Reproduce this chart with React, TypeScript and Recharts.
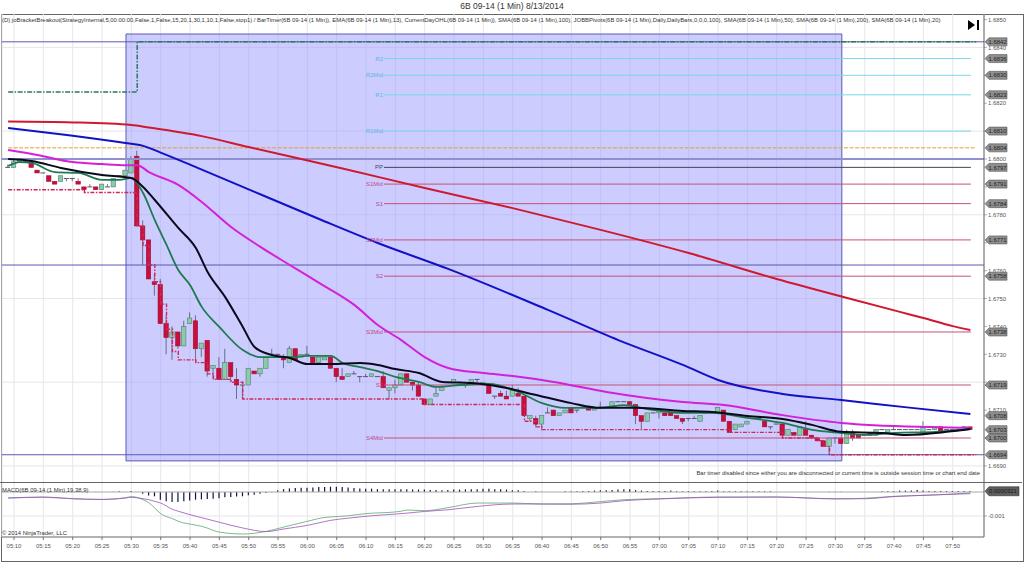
import React from "react";
import { ComposedChart, Bar, Line, XAxis, YAxis, CartesianGrid, ReferenceArea, ReferenceLine } from "recharts";

// Prices are kept in units of 0.0001 (16800 = 1.6800). Minutes are counted from 05:10.
const FIRST_MINUTE = -1;
const open = [
  16797,16797,16799,16799,16799,16796,16795,16794,16792,16792,
  16793,16793,16792,16790,16790,16790,16789,16790,16790,16794,
  16794,16795,16801,16776,16771,16756,16755,16741,16736,16738,
  16733,16741,16742,16732,16735,16725,16725,16721,16727,16721,
  16719,16719,16724,16723,16725,16730,16730,16729,16727,16732,
  16729,16730,16729,16727,16728,16729,16725,16722,16722,16723,
  16722,16722,16722,16722,16722,16717,16718,16719,16723,16720,
  16719,16714,16712,16715,16717,16720,16720,16720,16719,16720,
  16721,16719,16719,16715,16716,16715,16715,16716,16715,16707,
  16707,16705,16709,16710,16708,16709,16711,16710,16711,16711,
  16710,16711,16711,16711,16713,16713,16713,16712,16708,16706,
  16709,16709,16709,16709,16708,16707,16707,16707,16706,16709,
  16709,16709,16710,16706,16703,16704,16705,16707,16707,16706,
  16704,16705,16705,16701,16702,16701,16703,16701,16700,16699,
  16697,16700,16700,16698,16702,16701,16701,16702,16701,16703,
  16702,16703,16703,16703,16703,16703,16702,16703,16703,16704,
  16703,16703,16703,16704,16704,
];
const close = [
  16797,16799,16800,16799,16797,16795,16795,16792,16791,16794,
  16793,16793,16791,16789,16790,16789,16791,16790,16793,16794,
  16796,16800,16776,16771,16757,16755,16741,16736,16738,16733,
  16740,16743,16732,16734,16724,16726,16721,16727,16722,16719,
  16719,16725,16723,16725,16729,16730,16730,16728,16732,16728,
  16730,16730,16727,16729,16729,16725,16722,16721,16723,16723,
  16722,16722,16723,16722,16718,16718,16719,16723,16720,16719,
  16715,16712,16714,16716,16718,16720,16721,16720,16719,16721,
  16721,16720,16716,16715,16715,16714,16717,16715,16708,16708,
  16705,16708,16709,16708,16709,16710,16709,16710,16711,16710,
  16711,16711,16711,16713,16713,16713,16712,16708,16706,16709,
  16709,16710,16708,16708,16707,16706,16707,16707,16708,16709,
  16709,16711,16706,16702,16705,16705,16706,16707,16707,16704,
  16704,16705,16701,16703,16701,16704,16701,16700,16699,16697,
  16700,16700,16698,16702,16700,16700,16701,16701,16703,16703,
  16703,16703,16703,16703,16703,16703,16704,16703,16704,16702,
  16703,16703,16703,16704,16703,
];
const high = [
  16798,16800,16800,16799,16799,16796,16795,16794,16792,16794,
  16793,16793,16793,16790,16791,16790,16791,16791,16793,16794,
  16796,16801,16803,16778,16771,16759,16757,16744,16740,16738,
  16742,16745,16744,16734,16735,16726,16729,16732,16727,16725,
  16719,16725,16724,16725,16729,16732,16730,16730,16733,16732,
  16730,16733,16729,16729,16729,16729,16725,16725,16723,16724,
  16722,16723,16723,16722,16724,16718,16721,16723,16723,16720,
  16720,16714,16714,16718,16718,16720,16721,16720,16719,16721,
  16721,16720,16719,16715,16717,16717,16719,16718,16715,16708,
  16708,16708,16711,16710,16709,16710,16711,16710,16712,16711,
  16711,16713,16711,16713,16713,16713,16713,16712,16708,16709,
  16709,16710,16709,16709,16708,16707,16707,16708,16708,16709,
  16709,16711,16710,16706,16705,16705,16706,16707,16707,16706,
  16704,16705,16705,16703,16702,16704,16706,16701,16700,16699,
  16700,16700,16700,16703,16703,16701,16701,16702,16703,16703,
  16703,16704,16703,16703,16703,16703,16706,16703,16704,16704,
  16703,16703,16703,16704,16704,
];
const low = [
  16797,16797,16799,16799,16797,16795,16795,16792,16791,16792,
  16792,16792,16791,16789,16790,16789,16789,16790,16790,16794,
  16794,16795,16776,16762,16757,16751,16741,16730,16728,16732,
  16733,16741,16727,16729,16722,16721,16721,16721,16720,16714,
  16714,16719,16723,16722,16725,16730,16729,16725,16727,16728,
  16729,16730,16727,16727,16728,16725,16720,16721,16722,16723,
  16720,16722,16722,16722,16718,16714,16716,16719,16720,16717,
  16715,16712,16712,16715,16717,16720,16720,16720,16718,16720,
  16720,16719,16716,16714,16715,16714,16715,16715,16708,16706,
  16704,16703,16709,16708,16708,16709,16709,16709,16711,16710,
  16710,16711,16711,16711,16713,16713,16712,16705,16703,16706,
  16709,16707,16708,16708,16707,16705,16706,16707,16706,16709,
  16709,16709,16706,16702,16703,16704,16705,16707,16707,16704,
  16703,16705,16701,16701,16701,16701,16701,16700,16699,16697,
  16694,16698,16698,16698,16699,16700,16701,16701,16701,16703,
  16702,16703,16703,16703,16703,16703,16702,16703,16703,16702,
  16703,16703,16703,16704,16703,
];

const sma200: [number, number][] = [[-1,16813.4],[10,16813.1],[20,16812.2],[23,16811.3],[32,16808.2],[40,16804.3],[56,16796.6],[70,16789.6],[85,16782.4],[100,16774.6],[115,16766.3],[130,16757],[142,16750.2],[151,16745.2],[155,16743],[160,16740.1],[163,16738.7]];
const sma100: [number, number][] = [[-1,16811.1],[9,16808.6],[19,16805.7],[22,16804.7],[25,16802.3],[31,16797.1],[41,16788.2],[52,16778.5],[62,16769.9],[74,16760.6],[91,16745.9],[103,16735.1],[114,16726.2],[120,16720.8],[131,16715.8],[141,16713.6],[153,16710.8],[163,16708.6]];
const sma50: [number, number][] = [[-1,16803.2],[4,16801.4],[10,16798.9],[15,16798.2],[19,16797.8],[21,16797.8],[23,16795.3],[28,16790.7],[32,16784.6],[37,16775.6],[42,16768.5],[47,16762],[52,16755.6],[58,16747.7],[62,16740.5],[66,16735.1],[70,16729],[74,16725.1],[80,16723.3],[85,16722.2],[92,16720.1],[101,16716.5],[114,16712.9],[121,16711.8],[131,16708.2],[141,16705.4],[156,16703.9],[163,16703.6]];
const sma20: [number, number][] = [[-1,16800],[3,16799.3],[8,16796.8],[15,16794.3],[20,16793.2],[22,16790],[24,16785.3],[28,16775.3],[31,16768.1],[33,16759.5],[36,16750.5],[39,16739.8],[41,16732.6],[44,16729.7],[47,16728.7],[50,16726.5],[54,16726.5],[59,16726.9],[62,16726.2],[65,16724.7],[69,16723.3],[73,16720.1],[78,16719.7],[83,16718.3],[89,16715.4],[95,16712.5],[100,16710.8],[106,16710.8],[114,16709.7],[119,16709.3],[125,16707.9],[131,16706.8],[136,16704.7],[141,16702.2],[148,16701.8],[152,16701.1],[159,16702.2],[163,16703.2]];
const ema13: [number, number][] = [[-1,16797.5],[1,16798.9],[3,16798.6],[7,16795.3],[11,16795],[15,16792.5],[18,16792.5],[20,16793.2],[22,16787.8],[24,16778.1],[26,16769.2],[28,16760.2],[30,16754.8],[32,16747],[35,16739.8],[39,16731.5],[42,16729],[47,16729],[50,16729.4],[54,16729.4],[56,16726.9],[59,16725.4],[62,16724],[65,16721.9],[69,16720.1],[72,16718.3],[76,16719],[81,16719.4],[86,16716.5],[90,16712.5],[94,16710.8],[100,16710.8],[104,16711.8],[108,16710.4],[114,16709],[119,16709],[125,16707.2],[131,16705.4],[136,16702.9],[141,16701.8],[145,16701.1],[150,16701.8],[157,16702.2],[163,16703.2]];
const targetSteps: [number, number][] = [[-1,16824],[21,16842],[164,16842]];
const stopSteps: [number, number][] = [[-1,16789],[12,16788],[21,16776],[22,16769],[23,16762],[24,16756],[25,16748],[26,16739],[27,16731],[28,16728],[31,16727],[33,16723],[34,16721],[37,16720],[39,16714],[70,16712],[87,16706],[89,16704],[90,16703],[122,16702],[131,16700],[137,16699],[138,16697],[139,16694],[164,16694]];

const pivotLevels = [
  { name: "R2", value: 16836, line: "#78d8ea", text: "#58b8e8" },
  { name: "R2Mid", value: 16830, line: "#78d8ea", text: "#58b8e8" },
  { name: "R1", value: 16823, line: "#78d8ea", text: "#58b8e8" },
  { name: "R1Mid", value: 16810, line: "#78d8ea", text: "#58b8e8" },
  { name: "PP", value: 16797, line: "#444458", text: "#444458" },
  { name: "S1Mid", value: 16791, line: "#c85078", text: "#c04888" },
  { name: "S1", value: 16784, line: "#c85078", text: "#c04888" },
  { name: "S2Mid", value: 16771, line: "#c85078", text: "#c04888" },
  { name: "S2", value: 16758, line: "#c85078", text: "#c04888" },
  { name: "S3Mid", value: 16738, line: "#c85078", text: "#c04888" },
  { name: "S3", value: 16719, line: "#c85078", text: "#c04888" },
  { name: "S4Mid", value: 16700, line: "#c85078", text: "#c04888" },
];
const priceTicks = [16850,16840,16830,16820,16810,16800,16790,16780,16770,16760,16750,16740,16730,16720,16710,16700,16690];
const coveredLabels = new Set([16830,16810,16790,16770,16720,16700]);
const priceFlags = [16842,16836,16830,16823,16810,16804,16797,16791,16784,16771,16758,16738,16719,16708,16703,16700,16694];
const gridPrices = [16840,16810,16780,16750,16720,16690];
const blueLevels = [16842, 16762, 16694];

const macdMinutes = [-1,5,10,15,19,20,22,23,24,25,27,28,31,32,35,39,43,46,50,53,54,57,60,65,66,67,70,74,79,85,90,95,100,104,110,120,130,140,145,150,156,163];
const macdHist: [number, number][] = [[11,0.00001],[12,0.00001],[14,0.00001],[17,0.00001],[18,0.00003],[20,0.00004],[22,-0.00007],[23,-0.00015],[24,-0.00018],[25,-0.00032],[26,-0.00039],[27,-0.00042],[28,-0.00042],[29,-0.00039],[30,-0.00035],[31,-0.00032],[32,-0.00031],[33,-0.00029],[34,-0.00028],[35,-0.00026],[36,-0.00022],[37,-0.00021],[38,-0.00019],[39,-0.00018],[40,-0.00014],[41,-0.00011],[42,-0.00007],[43,-0.00004],[44,-0.00001],[45,0.00007],[46,0.00012],[47,0.00015],[48,0.00017],[49,0.00018],[50,0.00018],[51,0.00019],[52,0.00021],[53,0.00021],[54,0.00022],[55,0.00022],[56,0.00021],[57,0.00019],[58,0.00017],[59,0.00015],[60,0.00014],[61,0.00014],[62,0.00012],[63,0.00011],[64,0.00011],[65,0.00011],[66,0.00011],[67,0.00011],[68,0.0001],[69,0.0001],[70,0.0001],[71,0.00008],[72,0.00008],[73,0.00007],[74,0.00008],[75,0.0001],[76,0.0001],[77,0.00011],[78,0.00012],[79,0.00012],[80,0.00014],[81,0.00014],[82,0.00012],[83,0.00011],[84,0.0001],[85,0.00007],[86,0.00007],[87,0.00004],[89,0.00003],[90,0.00001],[94,0.00003],[95,0.00003],[96,0.00003],[97,0.00004],[98,0.00004],[99,0.00006],[100,0.00007],[101,0.00007],[102,0.00008],[103,0.0001],[104,0.00011],[105,0.00011],[106,0.00008],[107,0.00006],[108,0.00004],[109,0.00004],[110,0.00004],[111,0.00004],[112,0.00006],[113,0.00003],[114,0.00003],[115,0.00003],[116,0.00003],[117,0.00003],[118,0.00003],[119,0.00004],[120,0.00006],[121,0.00003],[122,0.00003],[123,0.00003],[124,0.00003],[125,0.00003],[126,0.00003],[127,0.00003],[128,0.00003],[129,0.00003],[139,0.00001],[140,0.00001],[141,0.00001],[148,0.00003],[149,0.00003],[150,0.00003],[151,0.00006],[152,0.00006],[153,0.00006],[154,0.00008],[155,0.00006],[156,0.00004],[157,0.00004],[158,0.00004],[159,0.00004],[160,0.00004],[161,0.00004],[162,0.00004],[163,0.00004]];
const macdFast = [-0.00025,-0.00022,-0.00028,-0.00031,-0.00024,-0.00019,-0.00032,-0.00045,-0.00067,-0.0009,-0.00111,-0.00122,-0.00138,-0.00143,-0.00167,-0.00175,-0.00164,-0.00146,-0.00122,-0.00106,-0.00104,-0.00099,-0.0009,-0.00083,-0.0008,-0.00075,-0.00078,-0.00065,-0.00046,-0.00046,-0.0005,-0.00049,-0.0004,-0.00032,-0.00028,-0.00021,-0.00021,-0.00029,-0.00026,-0.00018,-0.00013,-0.00004];
const macdSlow = [-0.00025,-0.00021,-0.00028,-0.00031,-0.00025,-0.00022,-0.00028,-0.00032,-0.00039,-0.00046,-0.00072,-0.0008,-0.00101,-0.00107,-0.00126,-0.0015,-0.00165,-0.00154,-0.00139,-0.00123,-0.00118,-0.00109,-0.00101,-0.00092,-0.0009,-0.00088,-0.00081,-0.00074,-0.0006,-0.0005,-0.0005,-0.00051,-0.00046,-0.00036,-0.00029,-0.00022,-0.00021,-0.00028,-0.00028,-0.00019,-0.00013,-0.00007];
const macdLastFlag = 0.0000321;

const timeTicks = [0,5,10,15,20,25,30,35,40,45,50,55,60,65,70,75,80,85,90,95,100,105,110,115,120,125,130,135,140,145,150,155,160];
const timeLabel = (m: number) => {
  const total = 5 * 60 + 10 + m;
  const h = Math.floor(total / 60);
  const mm = total % 60;
  return `${String(h).padStart(2, "0")}:${String(mm).padStart(2, "0")}`;
};

const FONT = "'Liberation Sans', Arial, sans-serif";
const SMALL = 5.9;
const xDomain: [number, number] = [-2.045, 165.33];

const withSeries = (rows: Record<string, any>[], key: string, pts: [number, number][]) => {
  const byM = new Map(rows.map((r) => [r.m, r]));
  pts.forEach(([m, v]) => {
    const row = byM.get(m);
    if (row) row[key] = v;
  });
};

const priceRows: Record<string, any>[] = open.map((o, i) => ({
  m: FIRST_MINUTE + i, o, c: close[i], h: high[i], l: low[i], range: [low[i], high[i]],
}));
priceRows.push({ m: 164 });
withSeries(priceRows, "sma200", sma200);
withSeries(priceRows, "sma100", sma100);
withSeries(priceRows, "sma50", sma50);
withSeries(priceRows, "sma20", sma20);
withSeries(priceRows, "ema13", ema13);
withSeries(priceRows, "target", targetSteps);
withSeries(priceRows, "stop", stopSteps);
withSeries(priceRows, "dayHigh", [[-1, 16804], [164, 16804]]);

const macdRows: Record<string, any>[] = [];
for (let m = -1; m <= 163; m++) macdRows.push({ m });
withSeries(macdRows, "hist", macdHist);
withSeries(macdRows, "fast", macdMinutes.map((m, i) => [m, macdFast[i]] as [number, number]));
withSeries(macdRows, "slow", macdMinutes.map((m, i) => [m, macdSlow[i]] as [number, number]));

const Candle = (props: any) => {
  const { x, y, width, height, payload } = props;
  if (!payload || payload.h === undefined || !Number.isFinite(y)) return null;
  const cx = x + width / 2;
  const span = payload.h - payload.l;
  const ratio = span > 0 ? height / span : 0;
  const yO = y + (payload.h - payload.o) * ratio;
  const yC = y + (payload.h - payload.c) * ratio;
  const top = Math.min(yO, yC);
  const bh = Math.abs(yO - yC);
  const down = payload.c < payload.o;
  const doji = payload.c === payload.o;
  return (
    <g>
      <line x1={cx} x2={cx} y1={y} y2={y + height} stroke="#55556a" strokeWidth={0.8} />
      {doji ? (
        <line x1={cx - 2.5} x2={cx + 2.5} y1={top} y2={top} stroke="#55556a" strokeWidth={1} />
      ) : (
        <rect
          x={cx - 2.2}
          y={top}
          width={4.4}
          height={bh}
          fill={down ? "#c4103c" : "#8ccaa8"}
          stroke={down ? "#a80c34" : "#4c7f76"}
          strokeWidth={0.6}
        />
      )}
    </g>
  );
};

const PriceTick = (props: any) => {
  const { y, payload, index } = props;
  const isFlag = index >= priceTicks.length;
  if (isFlag) {
    const px = 985;
    return (
      <g>
        <polygon
          points={`${px},${y} ${px + 4},${y - 4} ${px + 22},${y - 4} ${px + 22},${y + 4} ${px + 4},${y + 4}`}
          fill="#8f8f8f"
          stroke="#555"
          strokeWidth={0.6}
        />
        <text x={px + 3.5} y={y + 2.2} fontSize={SMALL} fontFamily={FONT} fill="#222">
          {(payload.value / 10000).toFixed(4)}
        </text>
      </g>
    );
  }
  return (
    <g>
      <line x1={984} x2={987} y1={y} y2={y} stroke="#777" strokeWidth={0.6} />
      {coveredLabels.has(payload.value) ? null : (
        <text x={988} y={y + 2.2} fontSize={SMALL} fontFamily={FONT} fill="#555">
          {(payload.value / 10000).toFixed(4)}
        </text>
      )}
    </g>
  );
};

const MacdTick = (props: any) => {
  const { y, payload } = props;
  if (payload.value === macdLastFlag) {
    const px = 985;
    return (
      <g>
        <polygon
          points={`${px},${y} ${px + 4},${y - 4.5} ${px + 34},${y - 4.5} ${px + 34},${y + 4.5} ${px + 4},${y + 4.5}`}
          fill="#5f5f5f"
          stroke="#333"
          strokeWidth={0.6}
        />
        <text x={px + 4} y={y + 2.2} fontSize={SMALL} fontFamily={FONT} fill="#1a1a1a">
          {payload.value.toFixed(7)}
        </text>
      </g>
    );
  }
  return (
    <g>
      <line x1={984} x2={987} y1={y} y2={y} stroke="#777" strokeWidth={0.6} />
      <text x={988} y={y + 2.2} fontSize={SMALL} fontFamily={FONT} fill="#555">
        {payload.value.toFixed(3)}
      </text>
    </g>
  );
};

const TimeTick = (props: any) => {
  const { x, y, payload } = props;
  return (
    <text x={x} y={y + 6} textAnchor="middle" fontSize={SMALL} fontFamily={FONT} fill="#555">
      {timeLabel(payload.value)}
    </text>
  );
};

const ma = (key: string, stroke: string, width: number) => (
  <Line
    key={key}
    dataKey={key}
    type="monotone"
    stroke={stroke}
    strokeWidth={width}
    dot={false}
    connectNulls
    isAnimationActive={false}
    legendType="none"
  />
);

const overlay = (style: React.CSSProperties, text: string) => (
  <div style={{ position: "absolute", fontFamily: FONT, whiteSpace: "nowrap", color: "#333", lineHeight: 1, ...style }}>
    {text}
  </div>
);

export default function App() {
  return (
    <div style={{ position: "absolute", left: 0, top: 0, width: 1024, height: 562, background: "#fff", overflow: "hidden" }}>
      {overlay({ left: 0, width: 1024, textAlign: "center", top: 2, fontSize: 8.5 }, "6B 09-14 (1 Min)  8/13/2014")}
      <div style={{ position: "absolute", left: 1, top: 14, width: 1021, height: 546, border: "1px solid #666" }} />
      <div style={{ position: "absolute", left: 0, top: 14 }}>
        <ComposedChart width={1024} height={468} data={priceRows} margin={{ top: 0, left: 2, right: 0, bottom: 0 }}>
          <CartesianGrid stroke="#e6e6ec" strokeWidth={1} horizontalValues={gridPrices} />
          <XAxis dataKey="m" type="number" domain={xDomain} ticks={timeTicks} hide allowDataOverflow />
          <YAxis
            orientation="right"
            width={40}
            type="number"
            domain={[16684.23, 16851.97]}
            ticks={[...priceTicks, ...priceFlags]}
            interval={0}
            tick={<PriceTick />}
            tickLine={false}
            axisLine={{ stroke: "#666" }}
            allowDataOverflow
            allowDuplicatedCategory
          />
          <ReferenceArea x1={19.09} x2={141.1} y1={16691.8} y2={16844.8} fill="#9999ff" fillOpacity={0.5} stroke="#5a5ab4" strokeWidth={1} />
          <ReferenceLine y={16800} stroke="#9090cc" strokeWidth={2} />
          {blueLevels.map((v) => (
            <ReferenceLine key={v} y={v} stroke="#5a5ab0" strokeWidth={1} />
          ))}
          {pivotLevels.map((p) => (
            <ReferenceLine
              key={p.name}
              segment={[{ x: 63.06, y: p.value }, { x: 163.1, y: p.value }]}
              stroke={p.line}
              strokeWidth={1}
              label={{ value: p.name, position: "left", fontSize: 6, fill: p.text, fontFamily: FONT, offset: 1 }}
            />
          ))}
          <Line dataKey="dayHigh" stroke="#e0a030" strokeWidth={1} strokeDasharray="4 1.5" dot={false} connectNulls isAnimationActive={false} />
          <Bar dataKey="range" barSize={5} shape={<Candle />} isAnimationActive={false} />
          <Line dataKey="target" type="stepAfter" stroke="#2c7a60" strokeWidth={1.5} strokeDasharray="5 1.5 1.5 1.5" dot={false} connectNulls isAnimationActive={false} />
          <Line dataKey="stop" type="stepAfter" stroke="#d02858" strokeWidth={1.4} strokeDasharray="4 1.5 1.5 1.5" dot={false} connectNulls isAnimationActive={false} />
          {ma("sma200", "#d01830", 2)}
          {ma("sma100", "#1212c4", 2)}
          {ma("sma50", "#d420d8", 2)}
          {ma("ema13", "#1f7a50", 1.8)}
          {ma("sma20", "#0a0a1c", 2)}
        </ComposedChart>
      </div>
      <div style={{ position: "absolute", left: 0, top: 482 }}>
        <ComposedChart width={1024} height={79} data={macdRows} margin={{ top: 0, left: 2, right: 0, bottom: 0 }}>
          <CartesianGrid stroke="#e6e6ec" strokeWidth={1} horizontalValues={[-0.001]} />
          <XAxis
            dataKey="m"
            type="number"
            domain={xDomain}
            ticks={timeTicks}
            interval={0}
            height={24}
            tick={<TimeTick />}
            tickSize={3}
            tickLine={{ stroke: "#777" }}
            axisLine={{ stroke: "#666" }}
            allowDataOverflow
          />
          <YAxis
            orientation="right"
            width={40}
            type="number"
            domain={[-0.001875, 0.000417]}
            ticks={[-0.001, macdLastFlag]}
            interval={0}
            tick={<MacdTick />}
            tickLine={false}
            axisLine={{ stroke: "#666" }}
            allowDataOverflow
          />
          <ReferenceLine y={0} stroke="#aaa" strokeWidth={1} />
          <Bar dataKey="hist" barSize={1.2} fill="#15153c" isAnimationActive={false} />
          <Line dataKey="fast" type="monotone" stroke="#5aa86e" strokeWidth={0.8} dot={false} connectNulls isAnimationActive={false} />
          <Line dataKey="slow" type="monotone" stroke="#a050b8" strokeWidth={0.8} dot={false} connectNulls isAnimationActive={false} />
        </ComposedChart>
      </div>
      <div style={{ position: "absolute", left: 0, width: 1022, top: 482, borderTop: "1px solid #666" }} />
      {overlay({ left: 2, top: 18, fontSize: 5.92 }, "(D) joBracketBreakout(StrategyInternal,5,00:00:00,False,1,False,15,20,1,30,1,10,1,False,stop1) / BarTimer(6B 09-14 (1 Min)), EMA(6B 09-14 (1 Min),13), CurrentDayOHL(6B 09-14 (1 Min)), SMA(6B 09-14 (1 Min),100), JOBBPivots(6B 09-14 (1 Min),Daily,DailyBars,0,0,0,100), SMA(6B 09-14 (1 Min),50), SMA(6B 09-14 (1 Min),200), SMA(6B 09-14 (1 Min),20)")}
      {overlay({ right: 44, top: 471, fontSize: 5.9 }, "Bar timer disabled since either you are disconnected or current time is outside session time or chart end date")}
      {overlay({ left: 2, top: 488, fontSize: 5.9 }, "MACD(6B 09-14 (1 Min),19,38,9)")}
      {overlay({ left: 2, top: 531, fontSize: 5.9 }, "© 2014 NinjaTrader, LLC")}
      <svg style={{ position: "absolute", left: 964, top: 18 }} width={20} height={16}>
        <polygon points="4,2 11,7 4,12" fill="#000" />
        <rect x={13} y={2} width={2} height={10} fill="#000" />
      </svg>
    </div>
  );
}
